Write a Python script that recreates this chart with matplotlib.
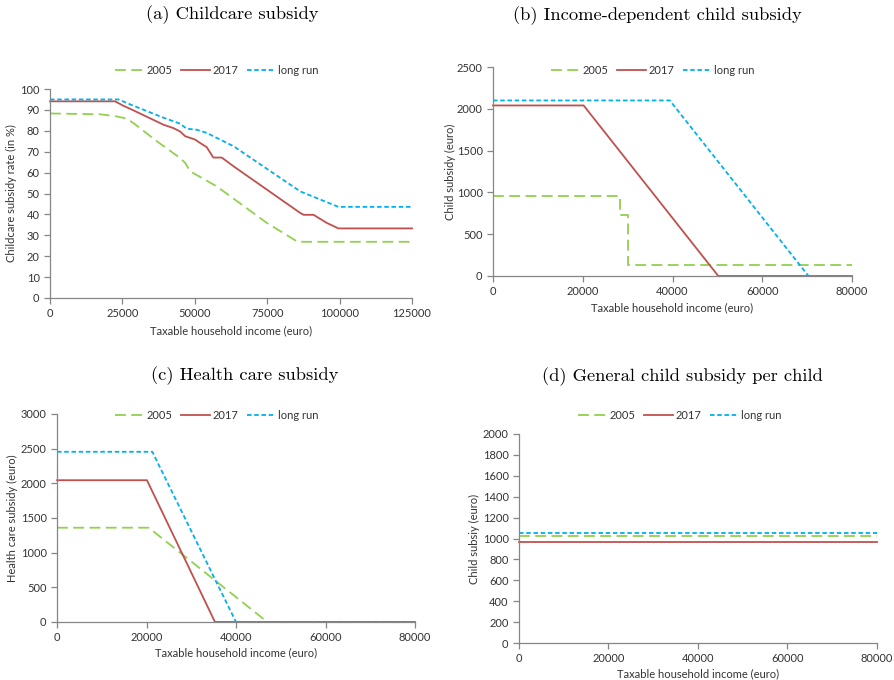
import matplotlib
matplotlib.use("Agg")
import matplotlib.pyplot as plt

# (a) childcare subsidy rate (in %)
a_x_2005 = [0, 17300, 23000, 26500, 28800, 36900, 44900, 46700, 48400, 57600, 74900, 85500, 125000]
a_y_2005 = [88.3, 87.9, 86.9, 85.8, 83.7, 75.0, 67.0, 64.6, 60.6, 53.4, 35.9, 26.9, 26.9]
a_x_2017 = [0, 22500, 25300, 28800, 30000, 39200, 42600, 44900, 46700, 50100, 51800, 54100,
            56400, 59300, 63400, 86400, 87600, 91000, 95600, 99600, 125000]
a_y_2017 = [94.1, 94.1, 92.0, 89.8, 89.0, 82.9, 81.3, 79.7, 77.4, 75.8, 74.2, 72.2,
            67.2, 67.2, 63.0, 40.7, 39.8, 39.8, 35.9, 33.3, 33.3]
a_x_long = [0, 23600, 28800, 38000, 44900, 47200, 50700, 54100, 63400, 86400, 99600, 125000]
a_y_long = [95.0, 95.0, 92.0, 86.9, 83.4, 81.0, 80.5, 79.0, 72.6, 51.0, 43.6, 43.6]

# (b) income-dependent child subsidy (euro)
b_x_2005 = [0, 28400, 28400, 30100, 30100, 80000]
b_y_2005 = [955, 955, 735, 735, 132, 132]
b_x_2017 = [0, 20200, 50200, 80000]
b_y_2017 = [2040, 2040, 0, 0]
b_x_long = [0, 39400, 70300, 80000]
b_y_long = [2100, 2100, 0, 0]

# (c) health care subsidy (euro)
c_x_2005 = [0, 20500, 47000, 80000]
c_y_2005 = [1360, 1360, 0, 0]
c_x_2017 = [0, 20100, 35300, 80000]
c_y_2017 = [2045, 2045, 0, 0]
c_x_long = [0, 21300, 40000, 80000]
c_y_long = [2455, 2455, 0, 0]

# (d) general child subsidy per child (euro)
d_x = [0, 80000]
d_y_2005 = [1020, 1020]
d_y_2017 = [965, 965]
d_y_long = [1050, 1050]

labels = ["2005", "2017", "long run"]
colors = ["#92D050", "#C0504D", "#00B0F0"]
dashes = [(6, 3), None, (2.5, 1.5)]

W, H = 895, 680
fig = plt.figure(figsize=(W / 100, H / 100), dpi=100)

tick_font = "Lato"
title_font = "cmr10"


def box(left, right, top, bottom):
    return [left / W, 1 - bottom / H, (right - left) / W, (bottom - top) / H]


def style(ax, xmax, ymax, xstep, ystep, ylabel, ylab_px, xlab_py, box_px):
    ax.set_xlim(0, xmax)
    ax.set_ylim(0, ymax)
    ax.set_xticks(range(0, xmax + 1, xstep))
    ax.set_yticks(range(0, ymax + 1, ystep))
    for s in ["top", "right"]:
        ax.spines[s].set_visible(False)
    for s in ["left", "bottom"]:
        ax.spines[s].set_color("#868686")
        ax.spines[s].set_linewidth(0.9)
    ax.tick_params(direction="out", length=4, width=0.9, color="#868686",
                   labelsize=8, labelcolor="#333333")
    for lab in ax.get_xticklabels() + ax.get_yticklabels():
        lab.set_fontfamily(tick_font)
    ax.set_ylabel(ylabel, fontsize=8, fontfamily=tick_font, color="#333333")
    ax.set_xlabel("Taxable household income (euro)", fontsize=8,
                  fontfamily=tick_font, color="#333333")
    l, r, t, b = box_px
    # ylabel anchor is its right edge, xlabel anchor is its top edge
    ax.yaxis.set_label_coords((ylab_px + 5 - l) / (r - l), 0.5)
    ax.xaxis.set_label_coords(0.5, -(xlab_py - 6 - b) / (b - t))


def draw(ax, xs, ys):
    handles = []
    for x, y, c, d, lab in zip(xs, ys, colors, dashes, labels):
        line, = ax.plot(x, y, color=c, lw=1.3, label=lab, clip_on=False)
        if d is not None:
            line.set_dashes(d)
        handles.append(line)
    return handles


def legend(handles, cx, cy):
    leg = fig.legend(handles=handles, loc="center", bbox_to_anchor=(cx / W, 1 - cy / H),
                     ncol=3, frameon=False, handlelength=2.6, handletextpad=0.2,
                     columnspacing=0.8, prop={"family": tick_font, "size": 8})
    for t in leg.get_texts():
        t.set_color("#333333")


def title(cx, cy, text):
    fig.text(cx / W, 1 - cy / H, text, ha="center", va="center",
             fontsize=13.3, fontfamily=title_font)


# panel (a)
pa = (50, 412, 89, 298)
ax = fig.add_axes(box(*pa))
h = draw(ax, [a_x_2005, a_x_2017, a_x_long], [a_y_2005, a_y_2017, a_y_long])
style(ax, 125000, 100, 25000, 10, "Childcare subsidy rate (in %)", 12, 331, pa)
legend(h, 217, 70)
title(232, 15, "(a) Childcare subsidy")

# panel (b)
pb = (493, 852, 67, 276)
ax = fig.add_axes(box(*pb))
h = draw(ax, [b_x_2005, b_x_2017, b_x_long], [b_y_2005, b_y_2017, b_y_long])
style(ax, 80000, 2500, 20000, 500, "Child subsidy (euro)", 451, 308, pb)
legend(h, 653, 70)
title(657, 16, "(b) Income-dependent child subsidy")

# panel (c)
pc = (57, 415, 414, 622)
ax = fig.add_axes(box(*pc))
h = draw(ax, [c_x_2005, c_x_2017, c_x_long], [c_y_2005, c_y_2017, c_y_long])
style(ax, 80000, 3000, 20000, 500, "Health care subsidy (euro)", 13, 653, pc)
legend(h, 217, 415)
title(245, 376, "(c) Health care subsidy")

# panel (d)
pd_ = (519, 877, 434, 643)
ax = fig.add_axes(box(*pd_))
h = draw(ax, [d_x, d_x, d_x], [d_y_2005, d_y_2017, d_y_long])
style(ax, 80000, 2000, 20000, 200, "Child subsiy (euro)", 475, 674, pd_)
legend(h, 680, 415)
title(682, 377, "(d) General child subsidy per child")

fig.savefig("out.png", dpi=100)
